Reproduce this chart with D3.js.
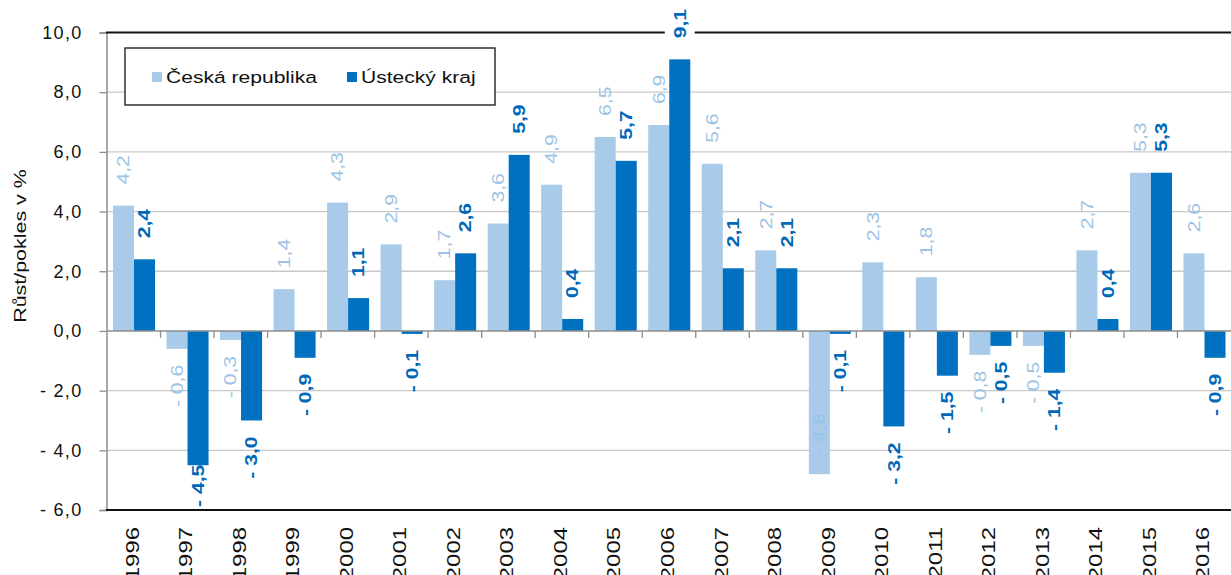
<!DOCTYPE html>
<html>
<head>
<meta charset="utf-8">
<script src="https://cdn.jsdelivr.net/npm/d3@7/dist/d3.min.js"></script>
<style>
  body { margin: 0; background: #fff; }
  svg { display: block; font-family: "Liberation Sans", Arial, sans-serif; }
</style>
</head>
<body>
<svg id="chart" width="1231" height="575"></svg>
<script>
// years and growth (%)
var years = ["1996","1997","1998","1999","2000","2001","2002","2003","2004","2005","2006",
             "2007","2008","2009","2010","2011","2012","2013","2014","2015","2016"];
var cesko  = [4.2,-0.6,-0.3,1.4,4.3,2.9,1.7,3.6,4.9,6.5,6.9,5.6,2.7,-4.8,2.3,1.8,-0.8,-0.5,2.7,5.3,2.6];
var ustecky = [2.4,-4.5,-3.0,-0.9,1.1,-0.1,2.6,5.9,0.4,5.7,9.1,2.1,2.1,-0.1,-3.2,-1.5,-0.5,-1.4,0.4,5.3,-0.9];
var seriesNames = ["Česká republika", "Ústecký kraj"];
var yTicks = [10, 8, 6, 4, 2, 0, -2, -4, -6];

var colors = { "Česká republika": "#a7cbe8", "Ústecký kraj": "#0070c0" };
var labelColors = { "Česká republika": "#9cc3e5", "Ústecký kraj": "#0068b8" };

var svg = d3.select("#chart");
var plotLeft = 107, plotRight = 1231, plotTop = 32.5, plotBottom = 510;

var x = d3.scaleBand().domain(years).range([plotLeft, plotRight]);
var x1 = d3.scaleBand().domain(seriesNames).range([6, x.bandwidth() - 5.5]);
var y = d3.scaleLinear().domain([-6, 10]).range([plotBottom, plotTop]);

function fmt(v) {
  var s = d3.format(".1f")(Math.abs(v)).replace(".", ",");
  return v < 0 ? "- " + s : s;
}

// gridlines
svg.append("g").selectAll("line")
  .data(yTicks.filter(function(d) { return d != 0 && d != 10 && d != -6; }))
  .enter().append("line")
  .attr("x1", plotLeft).attr("x2", plotRight)
  .attr("y1", function(d) { return y(d); }).attr("y2", function(d) { return y(d); })
  .attr("stroke", "#c8c8c8").attr("stroke-width", 1.3);

// y axis
var yAxis = svg.append("g").attr("transform", "translate(" + (plotLeft - 0.5) + ",0)")
  .call(d3.axisLeft(y).tickValues(yTicks).tickSize(7).tickPadding(17).tickFormat(fmt));
yAxis.select(".domain").attr("stroke", "#8c8c8c").attr("stroke-width", 1.5);
yAxis.selectAll(".tick line").attr("stroke", "#8c8c8c").attr("stroke-width", 1.3);
yAxis.selectAll(".tick text").attr("font-size", "18px").attr("fill", "#111")
  .attr("letter-spacing", "1.3px").attr("font-family", "Liberation Sans, Arial, sans-serif");

// bars
var rows = years.map(function(yr, i) {
  return { year: yr, vals: [ { s: seriesNames[0], v: cesko[i] }, { s: seriesNames[1], v: ustecky[i] } ] };
});
var groups = svg.append("g").selectAll("g").data(rows).enter().append("g")
  .attr("transform", function(d) { return "translate(" + x(d.year) + ",0)"; });
groups.selectAll("rect").data(function(d) { return d.vals; }).enter().append("rect")
  .attr("x", function(d) { return x1(d.s); })
  .attr("width", x1.bandwidth())
  .attr("y", function(d) { return y(Math.max(0, d.v)); })
  .attr("height", function(d) { return Math.abs(y(d.v) - y(0)); })
  .attr("fill", function(d) { return colors[d.s]; });

// zero axis with category ticks
svg.append("line").attr("x1", plotLeft).attr("x2", plotRight).attr("y1", y(0)).attr("y2", y(0))
  .attr("stroke", "#8c8c8c").attr("stroke-width", 1.5);
svg.append("g").selectAll("line").data(years.slice(1)).enter().append("line")
  .attr("x1", function(d) { return x(d); }).attr("x2", function(d) { return x(d); })
  .attr("y1", y(0)).attr("y2", y(0) + 7)
  .attr("stroke", "#8c8c8c").attr("stroke-width", 1.3);

// frame lines top and bottom
svg.append("line").attr("x1", plotLeft - 1).attr("x2", plotRight).attr("y1", plotTop).attr("y2", plotTop)
  .attr("stroke", "#111").attr("stroke-width", 2);
svg.append("line").attr("x1", plotLeft - 1).attr("x2", plotRight).attr("y1", plotBottom).attr("y2", plotBottom)
  .attr("stroke", "#111").attr("stroke-width", 2);

// x labels
svg.append("g").selectAll("text").data(years).enter().append("text")
  .attr("transform", function(d) { return "translate(" + (x(d) + x.bandwidth() / 2 - 1.5) + ",527) rotate(-90) scale(1.33,1)"; })
  .attr("text-anchor", "end").attr("dy", "0.36em")
  .attr("font-size", "18px").attr("fill", "#111")
  .text(function(d) { return d; });

// data labels
var sx = 1.32;
var labelLayer = svg.append("g");
rows.forEach(function(row) {
  row.vals.forEach(function(d) {
    var cx = x(row.year) + x1(d.s) + x1.bandwidth() / 2;
    var t = labelLayer.append("text")
      .attr("font-size", "16px")
      .attr("font-weight", d.s == seriesNames[1] ? "bold" : "normal")
      .attr("fill", labelColors[d.s])
      .attr("dy", "0.36em")
      .text(fmt(d.v));
    var L = t.node().getComputedTextLength() * sx;
    var pos, anchor;
    if (d.v >= 0) {
      anchor = "start";
      pos = y(d.v) - 21;
    } else {
      anchor = "end";
      var barEnd = y(d.v);
      pos = barEnd + 16;
      if (pos + L > plotBottom - 2) {
        if (barEnd + L <= plotBottom) pos = plotBottom - 3 - L;
        else pos = barEnd - 19 - L;
      }
    }
    t.attr("text-anchor", anchor)
      .attr("transform", "translate(" + cx + "," + pos + ") rotate(-90) scale(" + sx + ",1)");
    // label that sticks out above the plot gets a white backing over the frame
    if (d.v >= 0 && pos - L < plotTop + 4) {
      labelLayer.insert("rect", "text")
        .attr("x", cx - 15).attr("y", pos - L - 2)
        .attr("width", 30).attr("height", L + 4)
        .attr("fill", "#fff");
    }
  });
});

// y title
svg.append("text")
  .attr("transform", "translate(20,246) rotate(-90) scale(1.3,1)")
  .attr("text-anchor", "middle").attr("dy", "0.36em")
  .attr("font-size", "16.5px").attr("fill", "#111")
  .text("Růst/pokles v %");

// legend
var legend = svg.append("g");
legend.append("rect").attr("x", 125).attr("y", 48).attr("width", 370).attr("height", 57)
  .attr("fill", "#fff").attr("stroke", "#222").attr("stroke-width", 1.4);
var legX = [152, 347];
seriesNames.forEach(function(name, i) {
  legend.append("rect").attr("x", legX[i]).attr("y", 72).attr("width", 10).attr("height", 10)
    .attr("fill", colors[name]);
  legend.append("text").attr("transform", "translate(" + (legX[i] + 14) + ",83) scale(1.24,1)")
    .attr("font-size", "17px").attr("fill", "#111")
    .text(name);
});
</script>
</body>
</html>
